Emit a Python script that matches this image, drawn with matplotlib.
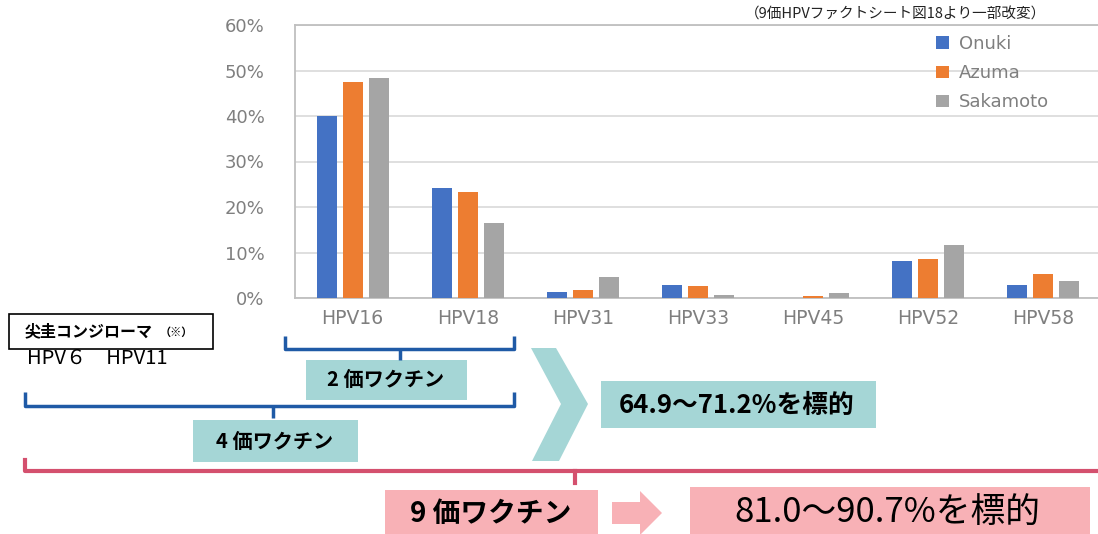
import matplotlib
matplotlib.use('Agg')
import matplotlib.pyplot as plt
import numpy as np
from matplotlib.patches import Rectangle, Polygon
from matplotlib.ticker import FuncFormatter

plt.rcParams['font.family'] = ['DejaVu Sans', 'Noto Sans CJK JP']
JP = ['Noto Sans CJK JP', 'DejaVu Sans']

types = ['HPV16', 'HPV18', 'HPV31', 'HPV33', 'HPV45', 'HPV52', 'HPV58']
onuki = [40.0, 24.1, 1.3, 2.9, 0.0, 8.2, 2.9]
azuma = [47.5, 23.2, 1.8, 2.6, 0.4, 8.5, 5.3]
sakamoto = [48.4, 16.4, 4.7, 0.7, 1.1, 11.6, 3.7]
series_names = ['Onuki', 'Azuma', 'Sakamoto']
colors = ['#4472C4', '#ED7D31', '#A5A5A5']
yticks = [0, 10, 20, 30, 40, 50, 60]

W, H = 1098, 534
fig = plt.figure(figsize=(W / 100, H / 100), dpi=100)

# bar chart (pixel box: x 295..1101, y 25..298)
ax = fig.add_axes([295 / W, 1 - 298 / H, 806 / W, 273 / H])
x = np.arange(len(types))
bw = 0.174
step = 0.226
for i, (vals, name, c) in enumerate(zip([onuki, azuma, sakamoto], series_names, colors)):
    ax.bar(x + (i - 1) * step, vals, width=bw, color=c, label=name, zorder=3)

ax.set_xlim(-0.5, len(types) - 0.5)
ax.set_ylim(0, 60)
ax.set_yticks(yticks)
ax.yaxis.set_major_formatter(FuncFormatter(lambda v, p: '%d%%' % v))
ax.set_xticks(x)
ax.set_xticklabels(types)
ax.tick_params(axis='y', length=0, pad=22, labelsize=13, labelcolor='#7f7f7f')
ax.tick_params(axis='x', length=0, pad=8, labelsize=13.5, labelcolor='#7f7f7f')
ax.grid(axis='y', color='#d9d9d9', linewidth=1.2, zorder=0)
for s in ['left', 'top', 'bottom']:
    ax.spines[s].set_color('#bfbfbf')
    ax.spines[s].set_linewidth(1.3)
ax.spines['right'].set_visible(False)

ax.legend(loc='upper left', bbox_to_anchor=(936 / W, 1 - 35 / H),
          bbox_transform=fig.transFigure, frameon=False,
          labelcolor='#7f7f7f', handlelength=0.7, handleheight=0.7,
          handletextpad=0.55, labelspacing=0.62, borderpad=0, borderaxespad=0,
          prop={'family': 'DejaVu Sans', 'size': 13})

# overlay in pixel coordinates for the annotations
ov = fig.add_axes([0, 0, 1, 1], zorder=5)
ov.set_xlim(0, W)
ov.set_ylim(H, 0)
ov.axis('off')
ov.patch.set_alpha(0)

ov.text(1046, 15, '（9価HPVファクトシート図18より一部改変）', ha='right', va='center',
        fontsize=10.5, color='#222222', family=JP)

teal = '#a5d6d6'
pink = '#f8b1b6'
blue = '#1f5aa6'
red = '#d4506e'

# condyloma box
ov.add_patch(Rectangle((9, 314), 204, 35, facecolor='white', edgecolor='black', linewidth=1.2))
ov.text(25, 331, '尖圭コンジローマ', ha='left', va='center', fontsize=11.5,
        fontweight='bold', family=JP)
ov.text(160, 332, '（※）', ha='left', va='center', fontsize=8, fontweight='bold', family=JP)
ov.text(27, 358, 'HPV６　HPV11', ha='left', va='center', fontsize=14.5, family=JP)

# brackets
def bracket(x0, x1, ytop, yline, xc, ybot, color):
    ov.plot([x0, x0, x1, x1], [ytop, yline, yline, ytop], color=color, lw=2.5,
            solid_joinstyle='round', solid_capstyle='butt')
    ov.plot([xc, xc], [yline, ybot], color=color, lw=2.5, solid_capstyle='butt')

bracket(285, 514, 336, 349, 400, 360, blue)
bracket(25, 514, 392, 406, 273, 418, blue)
ov.plot([25, 25, W + 5], [460, 471, 471], color=red, lw=3)
ov.plot([575, 575], [471, 483], color=red, lw=3)

# label boxes
ov.add_patch(Rectangle((306, 360), 161, 40, facecolor=teal, edgecolor='none'))
ov.text(386, 380, '2 価ワクチン', ha='center', va='center', fontsize=14.5,
        fontweight='bold', family=JP)
ov.add_patch(Rectangle((193, 420), 165, 42, facecolor=teal, edgecolor='none'))
ov.text(275, 441, '4 価ワクチン', ha='center', va='center', fontsize=14.5,
        fontweight='bold', family=JP)

# chevron
ov.add_patch(Polygon([(531, 348), (556, 348), (588, 404), (559, 461), (532, 461), (561, 404)],
                     closed=True, facecolor=teal, edgecolor='none'))
ov.add_patch(Rectangle((601, 381), 275, 47, facecolor=teal, edgecolor='none'))
ov.text(737, 405, '64.9〜71.2%を標的', ha='center', va='center', fontsize=18.5,
        fontweight='bold', family=JP)

# nine-valent row
ov.add_patch(Rectangle((385, 490), 213, 46, facecolor=pink, edgecolor='none'))
ov.text(491, 514, '9 価ワクチン', ha='center', va='center', fontsize=20,
        fontweight='bold', family=JP)
ov.add_patch(Polygon([(612, 502), (640, 502), (640, 491), (662, 513), (640, 535), (640, 524), (612, 524)],
                     closed=True, facecolor=pink, edgecolor='none'))
ov.add_patch(Rectangle((690, 487), 400, 50, facecolor=pink, edgecolor='none'))
ov.text(887, 512, '81.0〜90.7%を標的', ha='center', va='center', fontsize=25, family=JP)

fig.savefig('out.png', dpi=100)
